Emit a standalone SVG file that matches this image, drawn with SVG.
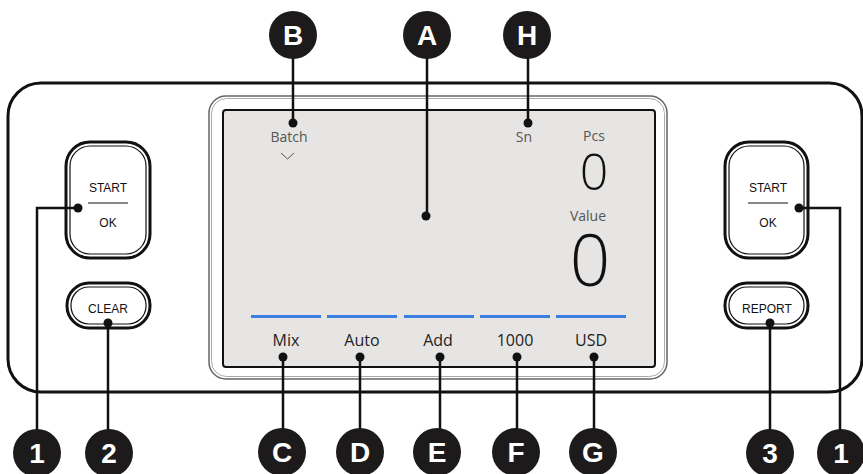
<svg xmlns="http://www.w3.org/2000/svg" width="863" height="474" viewBox="0 0 863 474">
<style>
.btn-o{fill:#fff;stroke:#111;stroke-width:3}
.btn-i{fill:none;stroke:#111;stroke-width:1.2}
.bt{font-family:"Liberation Sans",Arial,sans-serif;font-size:12px;fill:#111;text-anchor:middle}
.st{font-family:"Open Sans","Noto Sans",sans-serif;fill:#555;text-anchor:middle}
.lb{font-family:"Open Sans","Noto Sans",sans-serif;font-size:16px;fill:#222;text-anchor:middle}
.badge circle{fill:#1c1a1b}
.badge text{font-family:"Liberation Sans",Arial,sans-serif;font-weight:bold;font-size:28px;fill:#fff;text-anchor:middle}
.ln{fill:none;stroke:#111;stroke-width:2.5}
.dot{fill:#111}
.bar{stroke:#3b7fe3;stroke-width:3}
</style>
<rect width="863" height="474" fill="#fff"/>
<g id="body">
<rect x="8" y="83" width="854" height="309" rx="33" fill="#fff" stroke="#111" stroke-width="3"/>
</g>
<g id="screen">
<rect x="209" y="96" width="458" height="283" rx="17" fill="#fff" stroke="#666" stroke-width="1.5"/>
<rect x="211.5" y="98.5" width="453" height="278" rx="15" fill="none" stroke="#aaa" stroke-width="1"/>
<rect x="223" y="110" width="432" height="257" rx="3" fill="#e6e5e4" stroke="#111" stroke-width="2"/>
<text class="st" x="289" y="142" font-size="14">Batch</text>
<polyline points="281,153 287.5,159 294,153" fill="none" stroke="#555" stroke-width="1"/>
<text class="st" x="524" y="142" font-size="14">Sn</text>
<text class="st" x="594" y="141" font-size="14">Pcs</text>
<text class="st" x="594" y="190" font-size="50" style="fill:#111;font-weight:300">0</text>
<text class="st" x="588" y="221" font-size="14">Value</text>
<text class="st" x="590" y="286" font-size="71" style="fill:#111;font-weight:300">0</text>
<line class="bar" x1="251" y1="316.5" x2="321" y2="316.5"/>
<line class="bar" x1="327" y1="316.5" x2="397" y2="316.5"/>
<line class="bar" x1="404" y1="316.5" x2="474" y2="316.5"/>
<line class="bar" x1="480" y1="316.5" x2="550" y2="316.5"/>
<line class="bar" x1="556" y1="316.5" x2="626" y2="316.5"/>
<text class="lb" x="286" y="346">Mix</text>
<text class="lb" x="362" y="346">Auto</text>
<text class="lb" x="438" y="346">Add</text>
<text class="lb" x="515" y="346">1000</text>
<text class="lb" x="591" y="346">USD</text>
</g>
<g id="btn-start-left">
<rect class="btn-o" x="66" y="142" width="84" height="116" rx="24"/>
<rect class="btn-i" x="70" y="146" width="76" height="108" rx="20"/>
<text class="bt" x="108" y="192">START</text>
<line x1="88" y1="203" x2="128" y2="203" stroke="#111" stroke-width="1.2"/>
<text class="bt" x="108" y="227">OK</text>
</g>
<g id="btn-clear">
<rect class="btn-o" x="67" y="283" width="83" height="45" rx="22"/>
<rect class="btn-i" x="71" y="287" width="75" height="37" rx="18"/>
<text class="bt" x="108" y="313">CLEAR</text>
</g>
<g id="btn-start-right">
<rect class="btn-o" x="725" y="142" width="83" height="116" rx="24"/>
<rect class="btn-i" x="729" y="146" width="75" height="108" rx="20"/>
<text class="bt" x="768" y="192">START</text>
<line x1="748" y1="203" x2="788" y2="203" stroke="#111" stroke-width="1.2"/>
<text class="bt" x="768" y="227">OK</text>
</g>
<g id="btn-report">
<rect class="btn-o" x="725" y="283" width="83" height="45" rx="22"/>
<rect class="btn-i" x="729" y="287" width="75" height="37" rx="18"/>
<text class="bt" x="767" y="313">REPORT</text>
</g>
<g id="connectors">
<polyline class="ln" points="78,208 37,208 37,440"/>
<polyline class="ln" points="108,323 108,440"/>
<polyline class="ln" points="799,208 840,208 840,440"/>
<polyline class="ln" points="770,323 770,440"/>
<line class="ln" x1="293" y1="40" x2="293" y2="123"/>
<line class="ln" x1="427" y1="40" x2="427" y2="216"/>
<line class="ln" x1="528" y1="40" x2="528" y2="123"/>
<line class="ln" x1="283" y1="357" x2="283" y2="440"/>
<line class="ln" x1="360" y1="357" x2="360" y2="440"/>
<line class="ln" x1="440" y1="357" x2="440" y2="440"/>
<line class="ln" x1="517" y1="357" x2="517" y2="440"/>
<line class="ln" x1="594" y1="357" x2="594" y2="440"/>
<circle class="dot" cx="78" cy="208" r="4.5"/>
<circle class="dot" cx="108" cy="323" r="4.5"/>
<circle class="dot" cx="799" cy="208" r="4.5"/>
<circle class="dot" cx="770" cy="323" r="4.5"/>
<circle class="dot" cx="293" cy="123" r="4.5"/>
<circle class="dot" cx="426" cy="216" r="4.5"/>
<circle class="dot" cx="528" cy="123" r="4.5"/>
<circle class="dot" cx="283" cy="357" r="4.5"/>
<circle class="dot" cx="360" cy="357" r="4.5"/>
<circle class="dot" cx="440" cy="357" r="4.5"/>
<circle class="dot" cx="517" cy="357" r="4.5"/>
<circle class="dot" cx="594" cy="357" r="4.5"/>
</g>
<g id="badge-B" class="badge"><circle cx="293" cy="35" r="24"/><text x="293" y="45">B</text></g>
<g id="badge-A" class="badge"><circle cx="427" cy="35" r="24"/><text x="427" y="45">A</text></g>
<g id="badge-H" class="badge"><circle cx="527" cy="35" r="24"/><text x="527" y="45">H</text></g>
<g id="badge-1L" class="badge"><circle cx="37" cy="453" r="24"/><text x="37" y="463">1</text></g>
<g id="badge-2" class="badge"><circle cx="109" cy="453" r="24"/><text x="109" y="463">2</text></g>
<g id="badge-C" class="badge"><circle cx="282" cy="452" r="24"/><text x="282" y="462">C</text></g>
<g id="badge-D" class="badge"><circle cx="360" cy="452" r="24"/><text x="360" y="462">D</text></g>
<g id="badge-E" class="badge"><circle cx="437" cy="452" r="24"/><text x="437" y="462">E</text></g>
<g id="badge-F" class="badge"><circle cx="516" cy="452" r="24"/><text x="516" y="462">F</text></g>
<g id="badge-G" class="badge"><circle cx="593" cy="452" r="24"/><text x="593" y="462">G</text></g>
<g id="badge-3" class="badge"><circle cx="770" cy="453" r="24"/><text x="770" y="463">3</text></g>
<g id="badge-1R" class="badge"><circle cx="841" cy="453" r="24"/><text x="841" y="463">1</text></g>
</svg>
